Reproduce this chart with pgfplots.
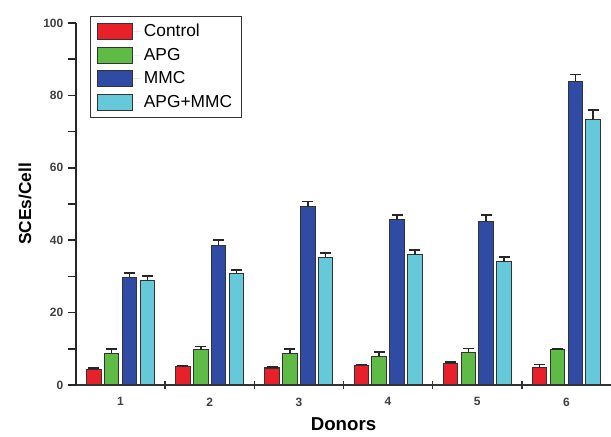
\documentclass[border=0pt]{standalone}
\usepackage{pgfplots}
\pgfplotsset{compat=1.18}
\usepackage{fontspec}
\setmainfont{Liberation Sans}
\definecolor{cred}{HTML}{E8202A}
\definecolor{cgreen}{HTML}{5DBB46}
\definecolor{cblue}{HTML}{2F4BA3}
\definecolor{ccyan}{HTML}{66C9DA}
\newdimen\px \px=0.75pt
\begin{document}
\begin{tikzpicture}
\begin{axis}[
  scale only axis,
  width=535\px, height=362\px,
  xmin=0.5, xmax=6.5, ymin=0, ymax=100,
  axis x line*=bottom, axis y line*=left,
  x axis line style={draw=black!80, line width=1.3pt, -},
  y axis line style={draw=black!85, line width=1.5pt, -},
  tick align=outside,
  xtick={1,...,6}, major x tick style={draw=none},
  minor xtick={1.5,2.5,3.5,4.5,5.5},
  minor x tick style={draw=black!80, line width=1.2pt, yshift=4\px},
  ytick={0,20,...,100}, minor ytick={10,30,...,90},
  major y tick style={draw=black!85, line width=1.3pt},
  minor y tick style={draw=black!85, line width=1.3pt},
  major tick length=8\px, minor tick length=8\px,
  tick label style={font=\fontsize{9}{10}\selectfont\bfseries, text=black!75},
  /pgf/number format/assume math mode=true,
  xlabel={\bfseries Donors}, ylabel={\bfseries SCEs/Cell},
  xlabel style={font=\fontsize{14}{16}\selectfont, yshift=-2pt},
  ylabel style={font=\fontsize{13}{15}\selectfont, yshift=2pt},
  ybar, bar width=0.163,
  every axis plot/.append style={draw=black!80, line width=0.8pt},
  error bars/y dir=plus, error bars/y explicit,
  error bars/error bar style={line width=1.1pt, black!85},
  error bars/error mark options={line width=1.1pt, black!85, mark size=5.5\px, rotate=90},
  legend style={at={(rel axis cs:0.026,1.02)}, anchor=north west, draw=black!80, line width=0.8pt,
    font=\fontsize{13}{14}\selectfont, row sep=3pt, inner xsep=5pt, inner ysep=4pt, cells={anchor=west}},
  legend image code/.code={\draw[#1, line width=0.8pt, draw=black!80] (0cm,-0.21cm) rectangle (0.92cm,0.21cm); \path[draw=none] (0,0) -- (1.15cm,0);},
]
\addplot[fill=cred, bar shift=-0.3] coordinates {
 (1,4.4) +- (0,0.3) (2,5.1) +- (0,0.3) (3,4.7) +- (0,0.3)
 (4,5.4) +- (0,0.3) (5,6.0) +- (0,0.3) (6,4.8) +- (0,0.9)};
\addplot[fill=cgreen, bar shift=-0.1] coordinates {
 (1,8.8) +- (0,1.1) (2,9.7) +- (0,0.9) (3,8.8) +- (0,1.1)
 (4,8.0) +- (0,1.1) (5,9.0) +- (0,1.1) (6,9.7) +- (0,0.3)};
\addplot[fill=cblue, bar shift=0.1] coordinates {
 (1,29.7) +- (0,1.2) (2,38.5) +- (0,1.6) (3,49.3) +- (0,1.4)
 (4,45.6) +- (0,1.3) (5,45.1) +- (0,1.8) (6,83.9) +- (0,1.8)};
\addplot[fill=ccyan, bar shift=0.3] coordinates {
 (1,28.8) +- (0,1.3) (2,30.7) +- (0,1.1) (3,35.3) +- (0,1.2)
 (4,36.0) +- (0,1.3) (5,34.1) +- (0,1.2) (6,73.3) +- (0,2.7)};
\legend{Control, APG, MMC, APG+MMC}
\coordinate (O) at (rel axis cs:0,0);
\coordinate (NE) at (rel axis cs:1,1);
\end{axis}
\pgfresetboundingbox
\path ([xshift=-76\px, yshift=-51\px]O) rectangle ([yshift=23\px]NE);
\end{tikzpicture}
\end{document}
